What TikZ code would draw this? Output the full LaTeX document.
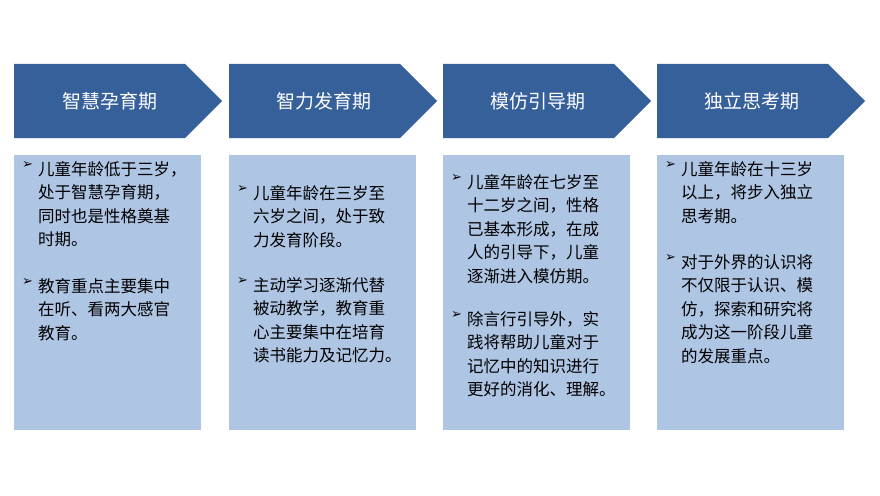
\documentclass[tikz,border=0pt]{standalone}
\usepackage{fontspec}
\setmainfont{Noto Sans CJK SC}
\newfontfamily\symfont{DejaVu Sans}
\begin{document}
\begin{tikzpicture}[x=1pt,y=-1pt,
  arr/.style={fill=arrowblue,draw=none},
  panel/.style={fill=panelblue,draw=none},
  head/.style={text=white,font=\fontsize{19}{22}\selectfont},
  para/.style={anchor=north west,inner sep=0,align=left,font=\fontsize{16.5}{23.5}\selectfont},
  bul/.style={anchor=north west,inner sep=0,font=\symfont\fontsize{13}{23.5}\selectfont}]
\definecolor{arrowblue}{HTML}{36609A}
\definecolor{panelblue}{HTML}{AFC5E4}
\useasboundingbox (0,0) rectangle (880,495);
\foreach \x/\n in {14/a,229/b,443/c,657/d}{
  \fill[arr] (\x,64) -- (\x+171,64) -- (\x+208,101) -- (\x+171,138) -- (\x,138) -- cycle;
  \fill[panel] (\x,155) rectangle (\x+187,430);
}
\node[head] (ha) at (110,101) {智慧孕育期};
\node[head] (hb) at (324,101) {智力发育期};
\node[head] (hc) at (538,101) {模仿引导期};
\node[head] (hd) at (752,101) {独立思考期};
% box 1
\node[bul] (a1b) at (22,161) {➢};
\node[para] (a1) at (38,161) {儿童年龄低于三岁，\\处于智慧孕育期，\\同时也是性格奠基\\时期。};
\node[bul] (a2b) at (22,278) {➢};
\node[para] (a2) at (38,278) {教育重点主要集中\\在听、看两大感官\\教育。};
% box 2
\node[bul] (b1b) at (237,185) {➢};
\node[para] (b1) at (253,185) {儿童年龄在三岁至\\六岁之间，处于致\\力发育阶段。};
\node[bul] (b2b) at (237,277) {➢};
\node[para] (b2) at (253,277) {主动学习逐渐代替\\被动教学，教育重\\心主要集中在培育\\读书能力及记忆力。};
% box 3
\node[bul] (c1b) at (451,174) {➢};
\node[para] (c1) at (467,174) {儿童年龄在七岁至\\十二岁之间，性格\\已基本形成，在成\\人的引导下，儿童\\逐渐进入模仿期。};
\node[bul] (c2b) at (451,311) {➢};
\node[para] (c2) at (467,311) {除言行引导外，实\\践将帮助儿童对于\\记忆中的知识进行\\更好的消化、理解。};
% box 4
\node[bul] (d1b) at (665,161) {➢};
\node[para] (d1) at (681,161) {儿童年龄在十三岁\\以上，将步入独立\\思考期。};
\node[bul] (d2b) at (665,254) {➢};
\node[para] (d2) at (681,254) {对于外界的认识将\\不仅限于认识、模\\仿，探索和研究将\\成为这一阶段儿童\\的发展重点。};
\end{tikzpicture}
\end{document}
